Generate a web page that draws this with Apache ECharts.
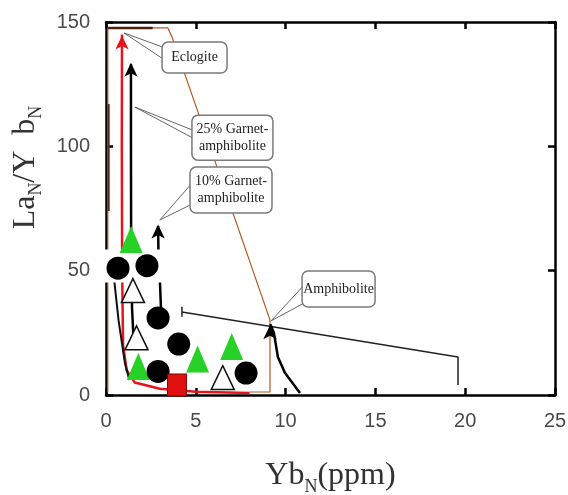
<!DOCTYPE html>
<html><head><meta charset="utf-8">
<script src="https://cdn.jsdelivr.net/npm/echarts@6/dist/echarts.min.js"></script>
<style>html,body{margin:0;padding:0;background:#fff}#c{width:568px;height:495px}</style>
</head><body><div id="c"></div>
<script>
// ---- data ----
const xTicks = [0, 5, 10, 15, 20, 25];
const yTicks = [0, 50, 100, 150];
const blackCircles = [[0.67, 51], [2.28, 52], [2.9, 31], [4.05, 20.5], [2.9, 9.5], [7.8, 8.8]];
const greenTriangles = [[1.4, 62.5], [1.8, 11.5], [5.1, 14.5], [7.0, 19.5]];
const whiteTriangles = [[1.5, 42], [1.7, 23], [6.5, 7]];
const redSquares = [[3.95, 4]];
const eclogiteCurve = [[8, 0.8], [5, 1.3], [3, 2.5], [1.6, 5], [1.15, 10], [0.95, 20], [0.9, 50], [0.88, 100], [0.89, 145]];
const garnet25Curve = [[1.55, 20], [1.45, 35], [1.4, 60], [1.39, 100], [1.39, 133]];
const garnet25Lower = [[1.3, 6], [1.05, 13], [0.7, 30], [0.4, 50]];
const garnet10Curve = [[3.1, 28], [3.0, 46], [2.92, 58], [2.9, 68]];
const amphiboliteCurve = [[10.8, 0.8], [9.97, 8.8], [9.57, 15.3], [9.35, 25], [9.15, 28.5]];
const envelope = [[8.0, 1.2], [9.13, 1.2], [9.13, 30.2], [3.67, 144], [3.45, 147.6], [0.1, 147.6], [0.1, 1]];
const eclogiteCap = [[0.1, 147.6], [2.6, 147.6]];
const leftMark = [[0.15, 117], [0.15, 74]];
const traverse = [[4.23, 35.5], [4.23, 31.5], [4.23, 33.4], [19.6, 15.3], [19.6, 4]];
const arrowTips = [[0.89, 147], [1.39, 136], [2.9, 71], [9.13, 30.5]];
const labels = ['Eclogite', '25% Garnet-\namphibolite', '10% Garnet-\namphibolite', 'Amphibolite'];
const labelTips = [[1.0, 145.6], [1.61, 115.8], [3.0, 70.4], [9.19, 29.8]];
const labelCenters = [[4.93, 135.7], [7.04, 103.5], [6.96, 82.4], [12.95, 42.6]];
const whitePatch = [-0.6, 45.2, 3.6, 58.5];

// ---- layout / style ----
const boxSizes = [[65, 31], [81, 45], [82, 46], [73, 36]];
const wedgeOffsets = [[-10, 2], [-7, 1], [-7, 14], [-4, 14]];
const arrowColors = ['#e8141c', '#000', '#000', '#000'];

function hasFont(name) {
  const c = document.createElement('canvas').getContext('2d');
  c.font = '100px monospace';
  const w0 = c.measureText('150abc').width;
  c.font = '100px "' + name + '", monospace';
  return c.measureText('150abc').width !== w0;
}
const narrow = hasFont('Liberation Sans Narrow');
const tickFont = narrow ? '"Liberation Sans Narrow", sans-serif' : '"Liberation Sans", sans-serif';
const tickSize = narrow ? 24 : 20;
const serif = '"Liberation Serif", "DejaVu Serif", serif';

const chart = echarts.init(document.getElementById('c'), null, {renderer: 'canvas'});

function axisCommon(show) {
  return {
    type: 'value',
    axisLine: {show: true, onZero: false, lineStyle: {color: '#000', width: 2.5}},
    axisTick: {show: true, inside: true, length: 7, lineStyle: {color: '#000', width: 2.5}},
    axisLabel: {show: show, fontFamily: tickFont, fontSize: tickSize, color: '#4a4a4a', margin: 16},
    splitLine: {show: false}
  };
}
const xMin = xTicks[0], xMax = xTicks[xTicks.length - 1], xInt = xTicks[1] - xTicks[0];
const yMin = yTicks[0], yMax = yTicks[yTicks.length - 1], yInt = yTicks[1] - yTicks[0];

const nameRich = {
  a: {fontFamily: serif, fontSize: 32, color: '#333', lineHeight: 40},
  s: {fontFamily: serif, fontSize: 18, color: '#333', lineHeight: 18, verticalAlign: 'bottom'}
};

function lineSeries(data, color, width) {
  return {type: 'line', data: data, symbol: 'none', silent: true, z: 2, animation: false,
    lineStyle: {color: color, width: width}};
}
function scatterSeries(data, symbol, size, style, z) {
  return {type: 'scatter', data: data, symbol: symbol, symbolSize: size, z: z, silent: true,
    animation: false, itemStyle: Object.assign({opacity: 1}, style)};
}

const option = {
  animation: false,
  backgroundColor: '#fff',
  grid: {left: 106, right: 13, top: 22, bottom: 100, containLabel: false, outerBoundsMode: 'none'},
  xAxis: [
    Object.assign(axisCommon(true), {position: 'bottom', min: xMin, max: xMax, interval: xInt,
      name: '{a|Yb}{s|N}{a|(ppm)}', nameLocation: 'middle', nameGap: 61,
      nameTextStyle: {rich: nameRich}}),
    Object.assign(axisCommon(false), {position: 'top', min: xMin, max: xMax, interval: xInt})
  ],
  yAxis: [
    Object.assign(axisCommon(true), {position: 'left', min: yMin, max: yMax, interval: yInt,
      name: '{a|La}{s|N}{a|/Y  b}{s|N}', nameLocation: 'middle', nameGap: 58, nameRotate: 90,
      nameTextStyle: {rich: nameRich, padding: [0, 0, 0, 82]}}),
    Object.assign(axisCommon(false), {position: 'right', min: yMin, max: yMax, interval: yInt})
  ],
  series: [
    lineSeries(envelope, '#b5561f', 1.2),
    lineSeries(eclogiteCap, '#4a2010', 2.5),
    lineSeries(leftMark, '#5a2a12', 2),
    lineSeries(traverse, '#222', 1.5),
    lineSeries(eclogiteCurve, '#e8141c', 2.5),
    lineSeries(garnet25Curve, '#000', 2.5),
    lineSeries(garnet25Lower, '#111', 2),
    lineSeries(garnet10Curve, '#000', 2.5),
    lineSeries(amphiboliteCurve, '#000', 2.5),
    scatterSeries(whiteTriangles, 'triangle', [23, 24], {color: '#fff', borderColor: '#111', borderWidth: 1.5}, 4),
    scatterSeries(greenTriangles, 'triangle', [23, 27], {color: '#27d127'}, 5),
    scatterSeries(blackCircles, 'circle', 23, {color: '#000'}, 6),
    scatterSeries(redSquares, 'rect', [19, 22], {color: '#e01010', borderColor: '#7a0000', borderWidth: 1}, 7),
    {type: 'scatter', z: 8, silent: true, animation: false, symbol: 'arrow', symbolSize: [10, 14],
      symbolOffset: [0, 6],
      data: arrowTips.map((p, i) => ({value: p, itemStyle: {color: arrowColors[i], opacity: 1}}))}
  ]
};
chart.setOption(option);

// ---- annotations and white patch (placed through the axes) ----
const toPx = p => chart.convertToPixel({xAxisIndex: 0, yAxisIndex: 0}, p);
const graphics = [];
const pA = toPx([whitePatch[0], whitePatch[3]]);
const pB = toPx([whitePatch[2], whitePatch[1]]);
graphics.push({type: 'rect', z: 3, silent: true,
  shape: {x: pA[0], y: pA[1], width: pB[0] - pA[0], height: pB[1] - pA[1]},
  style: {fill: '#fff'}});
labels.forEach((txt, i) => {
  const tip = toPx(labelTips[i]);
  const c = toPx(labelCenters[i]);
  const w = boxSizes[i][0], h = boxSizes[i][1];
  const left = c[0] - w / 2;
  graphics.push({type: 'polygon', z: 9, silent: true,
    shape: {points: [tip, [left + 2, c[1] + wedgeOffsets[i][0]], [left + 2, c[1] + wedgeOffsets[i][1]]]},
    style: {fill: 'rgba(255,255,255,0.85)', stroke: '#666', lineWidth: 1}});
  graphics.push({type: 'rect', z: 10, silent: true,
    shape: {x: left, y: c[1] - h / 2, width: w, height: h, r: 6},
    style: {fill: '#fff', stroke: '#7a7a7a', lineWidth: 1.5}});
  graphics.push({type: 'text', z: 11, silent: true,
    style: {text: txt, x: c[0], y: c[1], align: 'center', verticalAlign: 'middle',
      font: '14px ' + serif, fill: '#222', lineHeight: 17}});
});
chart.setOption({graphic: graphics});
</script>
</body></html>
